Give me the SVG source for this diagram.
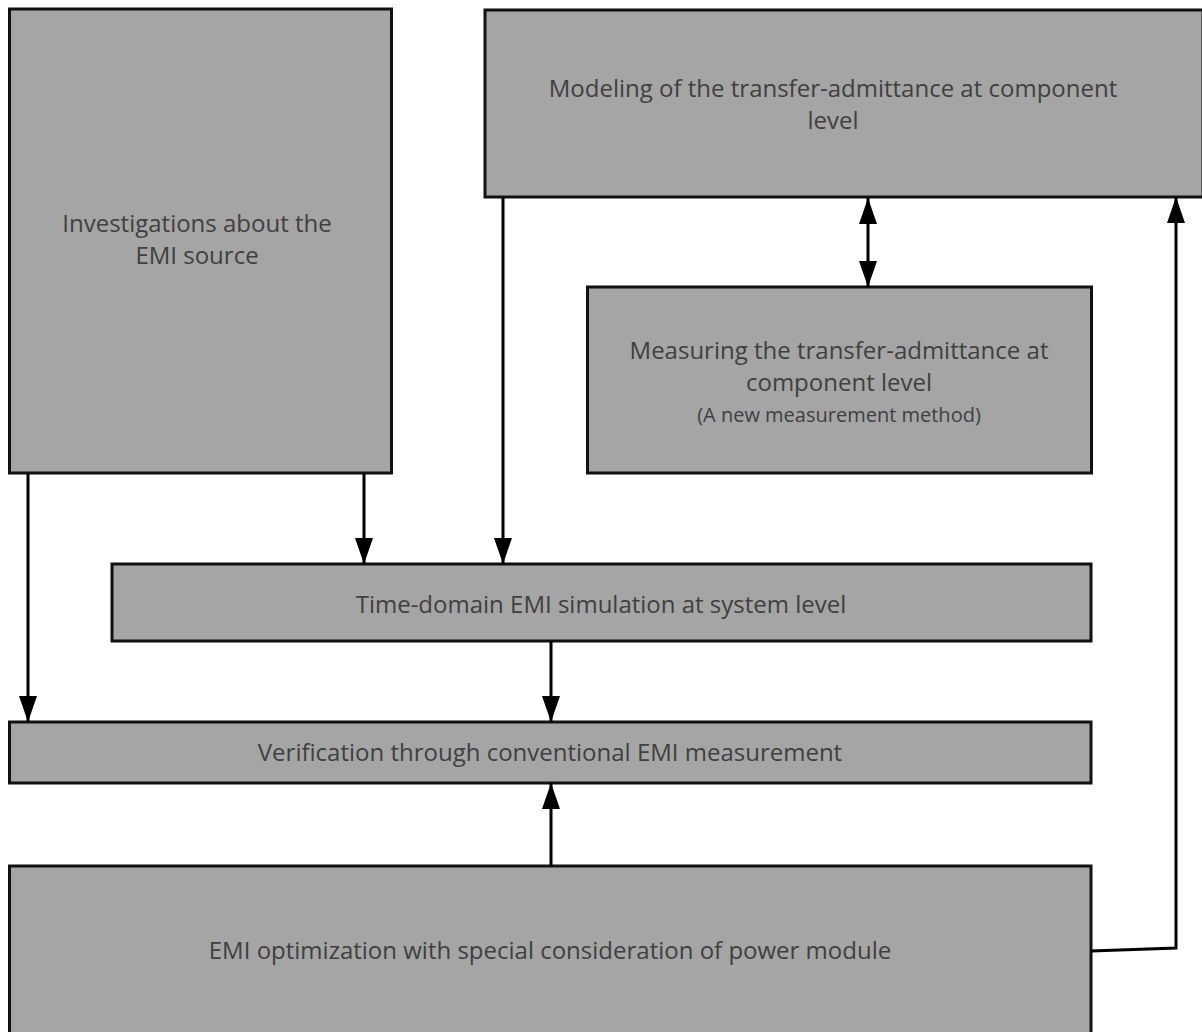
<svg xmlns="http://www.w3.org/2000/svg" width="1202" height="1032" viewBox="0 0 1202 1032">
<defs>
<style>
.box{fill:#a5a5a5;stroke:#111;stroke-width:3}
.t{font-family:"Open Sans","Noto Sans",sans-serif;font-size:24px;fill:#404040;text-anchor:middle}
.s{font-size:20px}
.c{fill:none;stroke:#000;stroke-width:3}
</style>
<marker id="ah" viewBox="0 0 26 18" refX="26" refY="9" markerWidth="26" markerHeight="18" markerUnits="userSpaceOnUse" orient="auto-start-reverse">
<path d="M0,0 L26,9 L0,18 Z" fill="#000"/>
</marker>
</defs>
<g id="n1"><rect class="box" x="9.5" y="9" width="382" height="464"/>
<text class="t" x="197" y="232">Investigations about the</text>
<text class="t" x="197" y="264">EMI source</text></g>
<g id="n2"><rect class="box" x="485" y="10" width="718" height="187"/>
<text class="t" x="833" y="97">Modeling of the transfer-admittance at component</text>
<text class="t" x="833" y="129">level</text></g>
<g id="n3"><rect class="box" x="587.5" y="287" width="504" height="186"/>
<text class="t" x="839" y="359">Measuring the transfer-admittance at</text>
<text class="t" x="839" y="391">component level</text>
<text class="t s" x="839" y="422">(A new measurement method)</text></g>
<g id="n4"><rect class="box" x="112" y="564" width="979" height="77"/>
<text class="t" x="601" y="613">Time-domain EMI simulation at system level</text></g>
<g id="n5"><rect class="box" x="9.5" y="722" width="1081.5" height="61"/>
<text class="t" x="550" y="761">Verification through conventional EMI measurement</text></g>
<g id="n6"><rect class="box" x="9.5" y="866" width="1081.5" height="175"/>
<text class="t" x="550" y="959">EMI optimization with special consideration of power module</text></g>
<g id="connectors">
<path class="c" d="M28,474 V722" marker-end="url(#ah)"/>
<path class="c" d="M364,474 V564" marker-end="url(#ah)"/>
<path class="c" d="M503,198 V564" marker-end="url(#ah)"/>
<path class="c" d="M868,198 V287" marker-start="url(#ah)" marker-end="url(#ah)"/>
<path class="c" d="M551,641 V722" marker-end="url(#ah)"/>
<path class="c" d="M551,866 V783" marker-end="url(#ah)"/>
<path class="c" d="M1091,951 L1176,948 V197" marker-end="url(#ah)"/>
</g>
</svg>
